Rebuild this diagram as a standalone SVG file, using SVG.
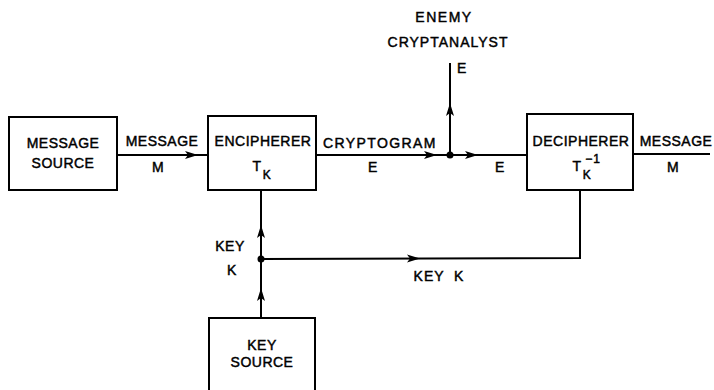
<svg xmlns="http://www.w3.org/2000/svg" width="714" height="390" viewBox="0 0 714 390">
<style>
.box{fill:#fff;stroke:#000;stroke-width:2}
.ln{fill:none;stroke:#000;stroke-width:2}
.ah{fill:#000;stroke:none}
text{font-family:"Liberation Sans",Arial,sans-serif;font-size:14px;fill:#000;stroke:#000;stroke-width:0.45;text-anchor:middle;letter-spacing:0.5px}
.sub{font-size:12px}
</style>
<defs>
<path id="ar" d="M0,0 L-13,-4 L-10,0 L-13,4 Z"/>
</defs>
<rect width="714" height="390" fill="#fff"/>
<g id="connectors">
<line class="ln" x1="117" y1="155" x2="208" y2="155"/>
<use href="#ar" class="ah" transform="translate(198,155)"/>
<line class="ln" x1="316" y1="155" x2="527" y2="155"/>
<use href="#ar" class="ah" transform="translate(437,155)"/>
<use href="#ar" class="ah" transform="translate(478,155)"/>
<circle cx="450" cy="155" r="3.5"/>
<line class="ln" x1="450" y1="155" x2="450" y2="63"/>
<use href="#ar" class="ah" transform="translate(450,103) rotate(-90)"/>
<line class="ln" x1="633" y1="154" x2="710" y2="154"/>
<line class="ln" x1="261" y1="190" x2="261" y2="318"/>
<use href="#ar" class="ah" transform="translate(261,225) rotate(-90)"/>
<use href="#ar" class="ah" transform="translate(261,288) rotate(-90)"/>
<circle cx="261" cy="259" r="3.5"/>
<polyline class="ln" points="261,259 580,258 580,190"/>
<use href="#ar" class="ah" transform="translate(420,258.5)"/>
</g>
<g id="message-source">
<rect class="box" x="9" y="117" width="108" height="73"/>
<text x="63" y="148">MESSAGE</text>
<text x="63" y="168">SOURCE</text>
</g>
<g id="encipherer">
<rect class="box" x="208" y="116" width="108" height="74"/>
<text x="263" y="146">ENCIPHERER</text>
<text x="257" y="171">T</text>
<text class="sub" x="267" y="179">K</text>
</g>
<g id="decipherer">
<rect class="box" x="527" y="114" width="106" height="76"/>
<text x="581" y="146">DECIPHERER</text>
<text x="577" y="171">T</text>
<text class="sub" x="587" y="179">K</text>
<text class="sub" x="593" y="163" style="letter-spacing:1px">−1</text>
</g>
<g id="key-source">
<rect class="box" x="209" y="318" width="106" height="80"/>
<text x="262" y="350">KEY</text>
<text x="262" y="367">SOURCE</text>
</g>
<g id="enemy-cryptanalyst">
<text x="444" y="22" style="letter-spacing:1.5px">ENEMY</text>
<text x="448" y="47" style="letter-spacing:1px">CRYPTANALYST</text>
</g>
<g id="labels">
<text x="162" y="146">MESSAGE</text>
<text x="158" y="172">M</text>
<text x="380" y="148" style="letter-spacing:1.4px">CRYPTOGRAM</text>
<text x="373" y="172">E</text>
<text x="500" y="172">E</text>
<text x="462" y="73">E</text>
<text x="676" y="146">MESSAGE</text>
<text x="673" y="172">M</text>
<text x="230" y="251">KEY</text>
<text x="232" y="275">K</text>
<text x="439" y="281" xml:space="preserve" style="letter-spacing:1px">KEY  K</text>
</g>
</svg>
